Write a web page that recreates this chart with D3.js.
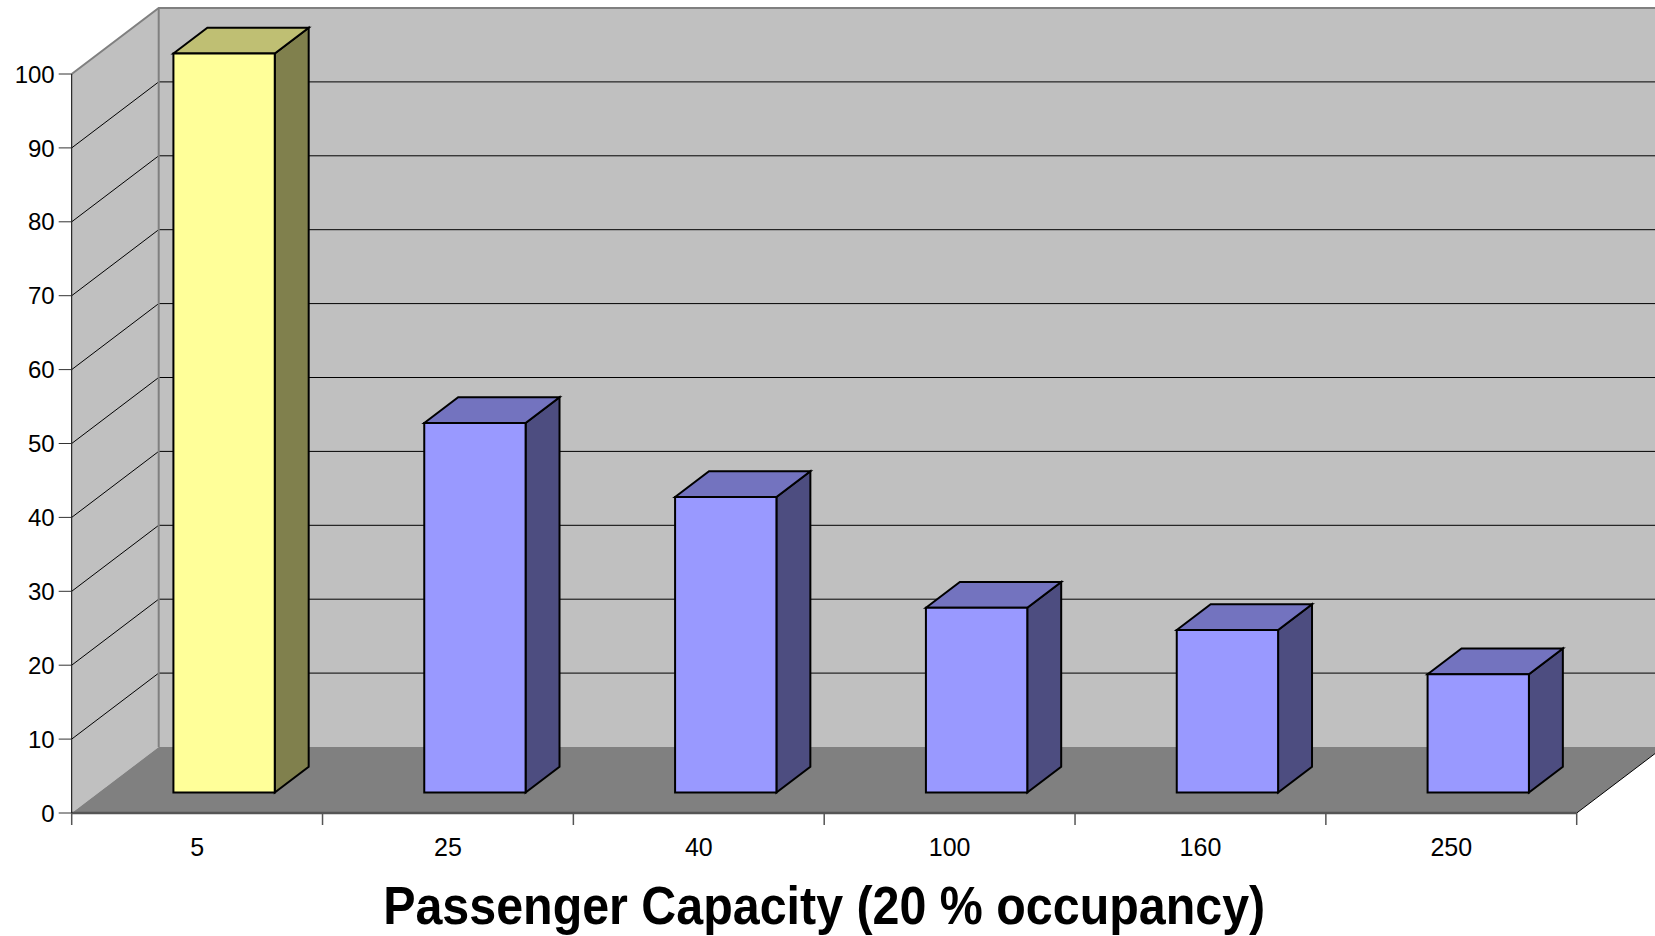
<!DOCTYPE html>
<html>
<head>
<meta charset="utf-8">
<script src="https://cdn.jsdelivr.net/npm/d3@7"></script>
<style>
  body { margin: 0; background: #fff; }
  text { font-family: "Liberation Sans", Arial, sans-serif; fill: #000; }
</style>
</head>
<body>
<div id="chart"></div>
<script>
const categories = ["5", "25", "40", "100", "160", "250"];
const values = [100, 50, 40, 25, 22, 16];
const yTicks = [0, 10, 20, 30, 40, 50, 60, 70, 80, 90, 100];
const title = "Passenger Capacity (20 % occupancy)";

const width = 1655;
const height = 936;

// front plane of the 3d box
const plotLeft = 71.7, plotRight = 1576.7, plotBottom = 813, plotTop = 74;
// full depth offset of the box
const depthX = 87, depthY = 66;
// bar depth position (0 = front, 1 = back)
const zFront = 0.31, zBack = 0.70;

const xScale = d3.scaleBand()
  .domain(categories)
  .range([plotLeft, plotRight])
  .paddingInner(0.596)
  .paddingOuter(0.298);

const yScale = d3.scaleLinear().domain([0, 100]).range([plotBottom, plotTop]);

const svg = d3.select("#chart")
  .append("svg")
    .attr("width", width)
    .attr("height", height);

const poly = pts => pts.map(p => p.join(",")).join(" ");

// side wall
svg.append("polygon")
  .attr("points", poly([[plotLeft, yScale(100)], [plotLeft + depthX, yScale(100) - depthY],
    [plotLeft + depthX, plotBottom - depthY], [plotLeft, plotBottom]]))
  .attr("fill", "#c0c0c0");

// back wall
svg.append("polygon")
  .attr("points", poly([[plotLeft + depthX, yScale(100) - depthY], [plotRight + depthX, yScale(100) - depthY],
    [plotRight + depthX, plotBottom - depthY], [plotLeft + depthX, plotBottom - depthY]]))
  .attr("fill", "#c0c0c0");

// gridlines
const grid = yTicks.filter(t => t > 0 && t < 100);
svg.selectAll(".grid-back")
  .data(grid)
  .enter()
  .append("line")
  .attr("x1", plotLeft + depthX)
  .attr("x2", plotRight + depthX)
  .attr("y1", d => yScale(d) - depthY)
  .attr("y2", d => yScale(d) - depthY)
  .attr("stroke", "#000")
  .attr("stroke-width", 1);

svg.selectAll(".grid-side")
  .data(grid)
  .enter()
  .append("line")
  .attr("x1", plotLeft)
  .attr("x2", plotLeft + depthX)
  .attr("y1", d => yScale(d))
  .attr("y2", d => yScale(d) - depthY)
  .attr("stroke", "#000")
  .attr("stroke-width", 1);

// wall edges
svg.append("polyline")
  .attr("points", poly([[plotLeft, yScale(100)], [plotLeft + depthX, yScale(100) - depthY], [width + 10, yScale(100) - depthY]]))
  .attr("fill", "none")
  .attr("stroke", "#808080")
  .attr("stroke-width", 2);
svg.append("line")
  .attr("x1", plotLeft + depthX).attr("x2", plotLeft + depthX)
  .attr("y1", yScale(100) - depthY).attr("y2", plotBottom - depthY)
  .attr("stroke", "#808080")
  .attr("stroke-width", 2);

// floor
svg.append("polygon")
  .attr("points", poly([[plotLeft, plotBottom], [plotLeft + depthX, plotBottom - depthY],
    [plotRight + depthX, plotBottom - depthY], [plotRight, plotBottom]]))
  .attr("fill", "#808080");
svg.append("line")
  .attr("x1", plotRight).attr("y1", plotBottom)
  .attr("x2", plotRight + depthX).attr("y2", plotBottom - depthY)
  .attr("stroke", "#000")
  .attr("stroke-width", 1);
svg.append("line")
  .attr("x1", plotLeft).attr("x2", plotRight)
  .attr("y1", plotBottom).attr("y2", plotBottom)
  .attr("stroke", "#555")
  .attr("stroke-width", 2.5);

// y axis
svg.append("line")
  .attr("x1", plotLeft).attr("x2", plotLeft)
  .attr("y1", yScale(100)).attr("y2", plotBottom)
  .attr("stroke", "#000")
  .attr("stroke-width", 1);

svg.selectAll(".ytick")
  .data(yTicks)
  .enter()
  .append("line")
  .attr("x1", plotLeft - 13)
  .attr("x2", plotLeft)
  .attr("y1", d => yScale(d))
  .attr("y2", d => yScale(d))
  .attr("stroke", "#333")
  .attr("stroke-width", 1);

svg.selectAll(".ylabel")
  .data(yTicks)
  .enter()
  .append("text")
  .attr("x", plotLeft - 17)
  .attr("y", d => yScale(d))
  .attr("dy", "0.36em")
  .attr("text-anchor", "end")
  .style("font-size", "24px")
  .text(d => d);

// x axis ticks and labels
const step = xScale.step();
const xTicks = d3.range(categories.length + 1).map(i => plotLeft + i * step);
svg.selectAll(".xtick")
  .data(xTicks)
  .enter()
  .append("line")
  .attr("x1", d => d)
  .attr("x2", d => d)
  .attr("y1", plotBottom)
  .attr("y2", plotBottom + 12)
  .attr("stroke", "#555")
  .attr("stroke-width", 1.5);

svg.selectAll(".xlabel")
  .data(categories)
  .enter()
  .append("text")
  .attr("x", d => xScale(d) + xScale.bandwidth() / 2)
  .attr("y", 856)
  .attr("text-anchor", "middle")
  .style("font-size", "25px")
  .text(d => d);

// bars
const bw = xScale.bandwidth();
const fdx = depthX * zFront, fdy = depthY * zFront;
const ddx = depthX * (zBack - zFront), ddy = depthY * (zBack - zFront);

const bars = svg.selectAll(".bar")
  .data(categories.map((c, i) => ({ cat: c, value: values[i], first: i === 0 })))
  .enter()
  .append("g")
  .attr("class", "bar");

function face(d, kind) {
  const x0 = xScale(d.cat) + fdx;
  const x1 = x0 + bw;
  const y0 = yScale(0) - fdy;
  const yt = yScale(d.value) - fdy;
  if (kind === "front") return poly([[x0, yt], [x1, yt], [x1, y0], [x0, y0]]);
  if (kind === "side") return poly([[x1, yt], [x1 + ddx, yt - ddy], [x1 + ddx, y0 - ddy], [x1, y0]]);
  return poly([[x0, yt], [x0 + ddx, yt - ddy], [x1 + ddx, yt - ddy], [x1, yt]]);
}

const palette = {
  front: d => d.first ? "#ffff99" : "#9999ff",
  side: d => d.first ? "#80804d" : "#4d4d80",
  top: d => d.first ? "#bfbf73" : "#7373bf"
};

["side", "top", "front"].forEach(kind => {
  bars.append("polygon")
    .attr("points", d => face(d, kind))
    .attr("fill", palette[kind])
    .attr("stroke", "#000")
    .attr("stroke-width", 2)
    .attr("stroke-linejoin", "miter");
});

// axis title
svg.append("text")
  .attr("x", (plotLeft + plotRight) / 2)
  .attr("y", 924)
  .attr("text-anchor", "middle")
  .attr("textLength", 882)
  .attr("lengthAdjust", "spacingAndGlyphs")
  .style("font-size", "53px")
  .style("font-weight", "bold")
  .text(title);
</script>
</body>
</html>
